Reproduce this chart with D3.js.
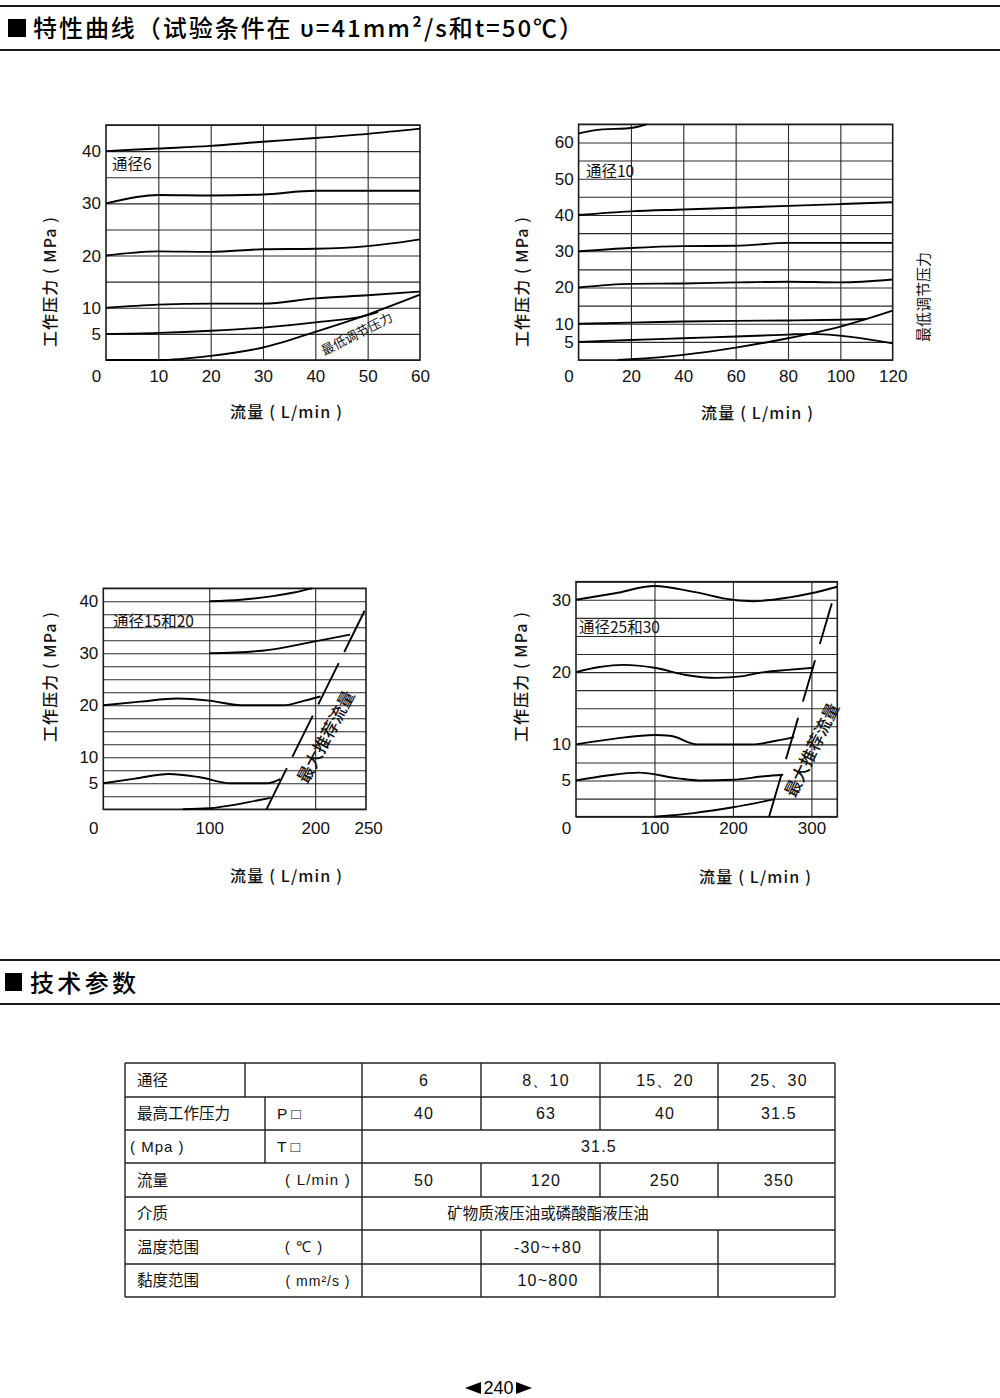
<!DOCTYPE html>
<html><head><meta charset="utf-8">
<script src="https://cdn.jsdelivr.net/npm/d3@7"></script>
<style>body{margin:0;background:#fff}svg{display:block}</style>
</head><body>
<svg id="page" width="1000" height="1398"></svg>
<script>
// ---------- DATA ----------
// 通径6 : [flow L/min, pressure MPa]
const d6_40  = [[0,40],[10,40.5],[20,41],[30,41.8],[40,42.5],[50,43.3],[60,44.3]];
const d6_30  = [[0,30],[10,31.6],[20,31.5],[30,31.7],[40,32.4],[50,32.4],[60,32.4]];
const d6_20  = [[0,20],[10,20.8],[20,20.7],[30,21.2],[40,21.3],[50,21.8],[60,23.1]];
const d6_10  = [[0,10],[10,10.6],[20,10.8],[30,10.8],[40,11.8],[50,12.4],[60,13.1]];
const d6_5   = [[0,5],[10,5.2],[20,5.6],[30,6.2],[40,7.2],[50,8.6],[52,9.2]];
const d6_min = [[0,0],[10,0],[20,0.8],[30,2.4],[40,5.4],[50,8.7],[60,12.5]];
// 通径10
const d10_60  = [[0,62.5],[9,63.6],[19,63.9],[23,64.4],[26,65]];
const d10_40  = [[0,40],[20,41],[40,41.5],[60,42],[80,42.5],[100,43],[120,43.5]];
const d10_30  = [[0,30],[20,30.9],[40,31.4],[60,31.5],[80,32.3],[100,32.3],[120,32.3]];
const d10_20  = [[0,20],[20,21],[40,21.1],[60,21.4],[80,21.6],[100,21.4],[120,22.2]];
const d10_10  = [[0,10],[20,10.3],[40,10.6],[60,10.8],[80,10.9],[100,11.1],[110,11.3]];
const d10_5   = [[0,5],[20,5.5],[40,6],[60,6.5],[80,7],[88,7.2],[120,4.6]];
const d10_min = [[15,0],[20,0.2],[40,1.4],[60,3.4],[80,6],[100,9.2],[120,13.6]];
// 通径15和20
const d15_40  = [[100,40],[130,40.3],[160,41],[180,41.7],[197,42.5]];
const d15_30  = [[100,30],[150,30.5],[200,32.3],[233,33.6]];
const d15_20  = [[0,20],[35,20.7],[70,21.3],[100,20.9],[130,20],[170,20],[190,20.9],[205,21.7]];
const d15_5   = [[0,5],[30,5.9],[62,6.8],[90,6.2],[120,5],[155,5],[167,5.8]];
const d15_min = [[75,0],[100,0.2],[125,0.9],[145,1.7],[158,2.2]];
const d15_max = [[154,0],[247,38.3]];
// 通径25和30
const d25_30  = [[0,30],[50,30.9],[100,31.9],[150,31.1],[200,30],[225,29.8],[270,30.3],[300,30.9],[333,31.8]];
const d25_20  = [[0,20],[30,20.7],[60,21],[100,20.6],[140,19.6],[180,19.2],[210,19.4],[240,20],[270,20.3],[303,20.6]];
const d25_10  = [[0,10],[50,10.8],[100,11.3],[120,11.2],[155,10],[225,10],[255,10.5],[278,11]];
const d25_5   = [[0,5],[40,5.7],[80,6.1],[130,5.3],[160,5],[200,5.1],[240,5.6],[264,5.8]];
const d25_min = [[100,0],[150,0.5],[200,1.3],[252,2.4]];
const d25_max = [[246,0],[326,29.5]];

// tick labels
const x6Ticks  = [0,10,20,30,40,50,60];
const y6Ticks  = [5,10,20,30,40];
const x10Ticks = [0,20,40,60,80,100,120];
const y10Ticks = [5,10,20,30,40,50,60];
const x15Ticks = [0,100,200,250];
const y15Ticks = [5,10,20,30,40];
const x25Ticks = [0,100,200,300];
const y25Ticks = [5,10,20,30];

// table
const tblRowHeads = ["通径","最高工作压力","( Mpa )","流量","介质","温度范围","黏度范围"];
const tblSizes  = ["6","8、10","15、20","25、30"];
const tblPmax   = ["40","63","40","31.5"];
const tblTmax   = "31.5";
const tblFlow   = ["50","120","250","350"];
const tblMedium = "矿物质液压油或磷酸酯液压油";
const tblTemp   = "-30~+80";
const tblVisc   = "10~800";

// ---------- DRAW ----------
const svg = d3.select("#page");
const INK = "#1c1c1c";
const CJK = "'Noto Sans CJK SC','Noto Sans',sans-serif";
const LAT = "'Liberation Sans',Arial,sans-serif";

svg.append("rect").attr("width",1000).attr("height",1398).attr("fill","#fff");

// section headers
function header(y1, y2, sq, label, tx, ty, tlen) {
  svg.append("line").attr("x1",0).attr("x2",1000).attr("y1",y1).attr("y2",y1).attr("stroke",INK).attr("stroke-width",2);
  svg.append("line").attr("x1",0).attr("x2",1000).attr("y1",y2).attr("y2",y2).attr("stroke",INK).attr("stroke-width",2);
  svg.append("rect").attr("x",sq[0]).attr("y",sq[1]).attr("width",sq[2]).attr("height",sq[3]).attr("fill","#000");
  const t = svg.append("text").attr("x",tx).attr("y",ty).attr("font-family",CJK).attr("font-size",24)
    .attr("font-weight",500).attr("fill","#000");
  if (tlen) t.attr("textLength",tlen).attr("lengthAdjust","spacing");
  t.text(label);
}
header(6, 50, [8,19,18,18], "特性曲线（试验条件在 υ=41mm²/s和t=50℃）", 33, 37, 550);
header(960, 1004, [5,973,17,18], "技术参数", 30, 992, 106);

function chart(o) {
  const x = d3.scaleLinear().domain(o.xd).range([o.l, o.r]);
  const y = d3.scaleLinear().domain(o.yd).range([o.b, o.t]);
  const g = svg.append("g");
  const W = o.r - o.l, H = o.b - o.t;
  // grid via axes
  const hg = g.append("g").attr("transform",`translate(${o.l},0)`)
    .call(d3.axisLeft(y).tickValues(d3.range(o.yd[0], o.yd[1]+0.001, o.yStep)).tickSize(-W).tickFormat(""));
  const vg = g.append("g").attr("transform",`translate(0,${o.b})`)
    .call(d3.axisBottom(x).tickValues(o.vGrid).tickSize(-H).tickFormat(""));
  [hg,vg].forEach(a => {
    a.select(".domain").remove();
    a.selectAll("line").attr("stroke","#2a2a2a").attr("stroke-width",1.1);
  });
  g.append("rect").attr("x",o.l).attr("y",o.t).attr("width",W).attr("height",H)
    .attr("fill","none").attr("stroke",INK).attr("stroke-width",1.6);
  // y labels
  const ya = g.append("g").attr("transform",`translate(${o.l},0)`)
    .call(d3.axisLeft(y).tickValues(o.yTicks).tickSize(0).tickPadding(5));
  ya.select(".domain").remove();
  ya.selectAll("text").attr("font-family",LAT).attr("font-size",17).attr("fill","#111");
  // x labels
  const xa = g.append("g").attr("transform",`translate(0,${o.xLabY})`)
    .call(d3.axisBottom(x).tickValues(o.xTicks).tickSize(0).tickPadding(0));
  xa.select(".domain").remove();
  xa.selectAll("text").attr("font-family",LAT).attr("font-size",17).attr("fill","#111").attr("dy","0.35em").attr("y",0)
    .attr("dx", d => d === 0 ? -10 : 0);
  // curves
  const line = d3.line().x(d=>x(d[0])).y(d=>y(d[1])).curve(o.curve);
  o.series.forEach(s => g.append("path").attr("d",line(s)).attr("fill","none")
    .attr("stroke","#000").attr("stroke-width",1.9).attr("stroke-linejoin","round"));
  if (o.maxLine) {
    g.append("path").attr("d", d3.line().x(d=>x(d[0])).y(d=>y(d[1]))(o.maxLine))
      .attr("fill","none").attr("stroke","#000").attr("stroke-width",1.9).attr("stroke-dasharray",o.dash);
  }
  // labels
  g.append("text").attr("x",o.nameX).attr("y",o.nameY).attr("font-family",CJK).attr("font-size",15.5)
    .attr("fill","#111").text(o.name);
  g.append("text").attr("transform",`translate(${o.ytX},${o.ytY}) rotate(-90)`).attr("text-anchor","middle")
    .attr("dy","0.35em").attr("font-family",CJK).attr("font-size",16).attr("font-weight",500).attr("fill","#111")
    .attr("textLength",130).attr("lengthAdjust","spacing").text("工作压力 ( MPa )");
  g.append("text").attr("x",o.xtX).attr("y",o.xtY).attr("text-anchor","middle")
    .attr("dy","0.35em").attr("font-family",CJK).attr("font-size",16).attr("font-weight",500).attr("fill","#111")
    .attr("textLength",112).attr("lengthAdjust","spacing").text("流量 ( L/min )");
  if (o.note) {
    g.append("text").attr("transform",`translate(${o.note.x},${o.note.y}) rotate(${o.note.a})`)
      .attr("text-anchor","middle").attr("dy","0.35em").attr("font-family",CJK)
      .attr("font-size",o.note.fs).attr("font-weight",o.note.fw||400).attr("fill","#111").text(o.note.t);
  }
  return {x,y};
}

chart({l:106,r:420,t:125,b:360,xd:[0,60],yd:[0,45],yStep:5,vGrid:[10,20,30,40,50],
  xTicks:x6Ticks,yTicks:y6Ticks,xLabY:376,curve:d3.curveMonotoneX,
  series:[d6_40,d6_30,d6_20,d6_10,d6_5,d6_min],
  name:"通径6",nameX:112,nameY:170,ytX:50,ytY:282,xtX:286,xtY:412,
  note:{t:"最低调节压力",x:357,y:334,a:-27,fs:13}});

chart({l:578.6,r:892.7,t:124.3,b:360,xd:[0,120],yd:[0,65],yStep:5,vGrid:[20,40,60,80,100],
  xTicks:x10Ticks,yTicks:y10Ticks,xLabY:376,curve:d3.curveMonotoneX,
  series:[d10_60,d10_40,d10_30,d10_20,d10_10,d10_5,d10_min],
  name:"通径10",nameX:586,nameY:177,ytX:522,ytY:282,xtX:757,xtY:413,
  note:{t:"最低调节压力",x:924,y:297,a:-90,fs:15}});

chart({l:103.3,r:366,t:588.3,b:809.3,xd:[0,248],yd:[0,42.5],yStep:2.5,vGrid:[100,200],
  xTicks:x15Ticks,yTicks:y15Ticks,xLabY:828,curve:d3.curveMonotoneX,
  series:[d15_40,d15_30,d15_20,d15_5,d15_min],maxLine:d15_max,dash:"46,12.5",
  name:"通径15和20",nameX:113,nameY:627,ytX:50,ytY:677,xtX:286,xtY:876,
  note:{t:"最大推荐流量",x:326,y:737,a:-62,fs:17,fw:500}});

chart({l:576,r:837.3,t:581.7,b:816.7,xd:[0,333],yd:[0,32.5],yStep:2.5,vGrid:[100,200,300],
  xTicks:x25Ticks,yTicks:y25Ticks,xLabY:828,curve:d3.curveMonotoneX,
  series:[d25_30,d25_20,d25_10,d25_5,d25_min],maxLine:d25_max,dash:"43,17",
  name:"通径25和30",nameX:579,nameY:633,ytX:521,ytY:677,xtX:755,xtY:877,
  note:{t:"最大推荐流量",x:812,y:750,a:-64,fs:17,fw:500}});

// ---------- TABLE ----------
const cx = [125,245,265,362,481,600,718,835];
const ry = [1063,1097,1130,1163,1197,1230,1264,1297];
const tg = svg.append("g");
function ln(x1,y1,x2,y2){ tg.append("line").attr("x1",x1).attr("y1",y1).attr("x2",x2).attr("y2",y2)
  .attr("stroke","#222").attr("stroke-width",1.4); }
ry.forEach(yv => ln(125,yv,835,yv));
ln(125,ry[0],125,ry[7]); ln(835,ry[0],835,ry[7]); ln(362,ry[0],362,ry[7]);
ln(245,ry[0],245,ry[1]);
ln(265,ry[1],265,ry[3]);
[481,600,718].forEach(xv => { ln(xv,ry[0],xv,ry[2]); ln(xv,ry[3],xv,ry[4]); ln(xv,ry[5],xv,ry[7]); });

function cell(t,x,rowIdx,anchor,opts){
  opts = opts||{};
  tg.append("text").attr("x",x).attr("y",(ry[rowIdx]+ry[rowIdx+1])/2).attr("dy","0.36em")
    .attr("text-anchor",anchor).attr("font-family",opts.f||CJK).attr("font-size",opts.s||15.5)
    .attr("letter-spacing",opts.ls||0).attr("fill","#111").text(t);
}
tblRowHeads.forEach((t,i) => cell(t, i===2?130:137, i, "start", i===2?{f:LAT,s:15,ls:1}:{}));
const colMid = [424,546,665,779];
const numOpt = {f:LAT,s:16,ls:1.2};
tblSizes.forEach((t,i)=>cell(t,colMid[i],0,"middle",numOpt));
tblPmax.forEach((t,i)=>cell(t,colMid[i],1,"middle",numOpt));
tblFlow.forEach((t,i)=>cell(t,colMid[i],3,"middle",numOpt));
cell("P □",277,1,"start",{f:LAT,s:15.5});
cell("T □",277,2,"start",{f:LAT,s:15.5});
cell(tblTmax,599,2,"middle",numOpt);
cell("( L/min )",318,3,"middle",{f:LAT,s:15,ls:1.2});
cell(tblMedium,548,4,"middle",{s:15.5});
cell("( ℃ )",304,5,"middle",{f:LAT,s:15,ls:1});
cell(tblTemp,548,5,"middle",numOpt);
cell("( mm²/s )",318,6,"middle",{f:LAT,s:14,ls:1});
cell(tblVisc,548,6,"middle",numOpt);

// ---------- PAGE NUMBER ----------
svg.append("path").attr("d","M465,1388 L481,1382 L481,1394 Z").attr("fill","#000");
svg.append("path").attr("d","M532,1388 L516,1382 L516,1394 Z").attr("fill","#000");
svg.append("text").attr("x",498.5).attr("y",1394).attr("text-anchor","middle")
  .attr("font-family",LAT).attr("font-size",18).attr("fill","#000").text("240");
</script>
</body></html>
